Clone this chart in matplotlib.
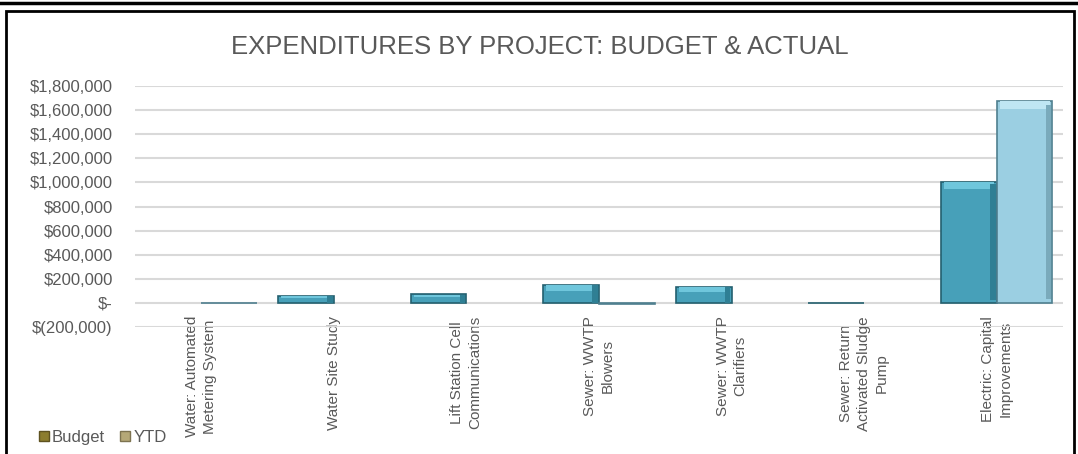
import numpy as np
import matplotlib.pyplot as plt
from matplotlib.patches import Rectangle
from matplotlib.lines import Line2D
from matplotlib.ticker import FuncFormatter

plt.rcParams['font.family'] = ['Liberation Sans', 'DejaVu Sans']

projects = ['Water: Automated\nMetering System', 'Water Site Study',
            'Lift Station Cell\nCommunications', 'Sewer: WWTP\nBlowers',
            'Sewer: WWTP\nClarifiers', 'Sewer: Return\nActivated Sludge\nPump',
            'Electric: Capital\nImprovements']
budget = [0, 58000, 70000, 150000, 132000, -4000, 1005000]
ytd = [-4000, 0, 0, -6000, 0, 0, 1675000]

budget_face, budget_edge, budget_top, budget_side = '#47a0b9', '#24606f', '#6fc6dc', '#2f7f94'
ytd_face, ytd_edge, ytd_top, ytd_side = '#9bcfe2', '#4f7f8f', '#bfe6f3', '#7aaabb'


def money(v, pos):
    if v == 0:
        return '$-'
    if v < 0:
        return '$({:,.0f})'.format(-v)
    return '${:,.0f}'.format(v)


fig = plt.figure(figsize=(10.78, 4.54), dpi=100)
ax = fig.add_axes([0.1252, 0.2797, 0.8609, 0.5309])

x = np.arange(len(projects))
w = 0.42
series = [(x - w / 2, budget, budget_face, budget_edge, budget_top, budget_side),
          (x + w / 2, ytd, ytd_face, ytd_edge, ytd_top, ytd_side)]
for xs, vals, face, edge, top, side in series:
    lws = [0 if v == 0 else 1.2 for v in vals]
    ax.bar(xs, vals, w, color=face, edgecolor=edge, linewidth=lws, zorder=3)
    # bevel: lighter top band and darker right side
    for xi, v in zip(xs, vals):
        if v > 20000:
            h = min(0.3 * v, 60000)
            ax.bar(xi, h, w * 0.9, bottom=v - h * 1.05, color=top, linewidth=0, zorder=4)
            ax.bar(xi + w * 0.43, v * 0.96, w * 0.1, bottom=v * 0.02, color=side,
                   linewidth=0, zorder=4)

ax.set_xlim(-0.5, len(projects) - 0.5)
ax.set_ylim(-200000, 1800000)
ax.set_yticks(np.arange(-200000, 1800001, 200000))
ax.yaxis.set_major_formatter(FuncFormatter(money))
ax.grid(axis='y', color='#d9d9d9', linewidth=1.5, zorder=0)
ax.set_axisbelow(True)
for s in ax.spines.values():
    s.set_visible(False)
ax.tick_params(axis='y', length=0, pad=16, labelsize=12, labelcolor='#595959')
ax.tick_params(axis='x', length=0, pad=-8, labelsize=11, labelcolor='#595959')
ax.set_xticks(x)
ax.set_xticklabels(projects, rotation=90, ha='center', va='top', multialignment='center',
                   linespacing=1.35)

fig.text(0.501, 0.897, 'EXPENDITURES BY PROJECT: BUDGET & ACTUAL', ha='center', va='center',
         fontsize=18.5, color='#595959')

handles = [Line2D([], [], marker='s', linestyle='', markersize=7, markerfacecolor='#8c7d2e',
                  markeredgecolor='#5e5220'),
           Line2D([], [], marker='s', linestyle='', markersize=7, markerfacecolor='#b5a877',
                  markeredgecolor='#7d7350')]
fig.legend(handles, ['Budget', 'YTD'], loc='center left', bbox_to_anchor=(0.022, 0.037),
           ncol=2, frameon=False, fontsize=12, handlelength=0.6, handletextpad=0.2,
           columnspacing=0.9, labelcolor='#595959')

# surrounding frames
fig.add_artist(Line2D([0, 1], [0.994, 0.994], color='black', linewidth=2.5, transform=fig.transFigure))
fig.add_artist(Rectangle((6 / 1078, -0.05), 1068 / 1078, 1.05 - 11 / 454, fill=False,
                         edgecolor='black', linewidth=2, transform=fig.transFigure))

fig.savefig('out.png', dpi=100)
